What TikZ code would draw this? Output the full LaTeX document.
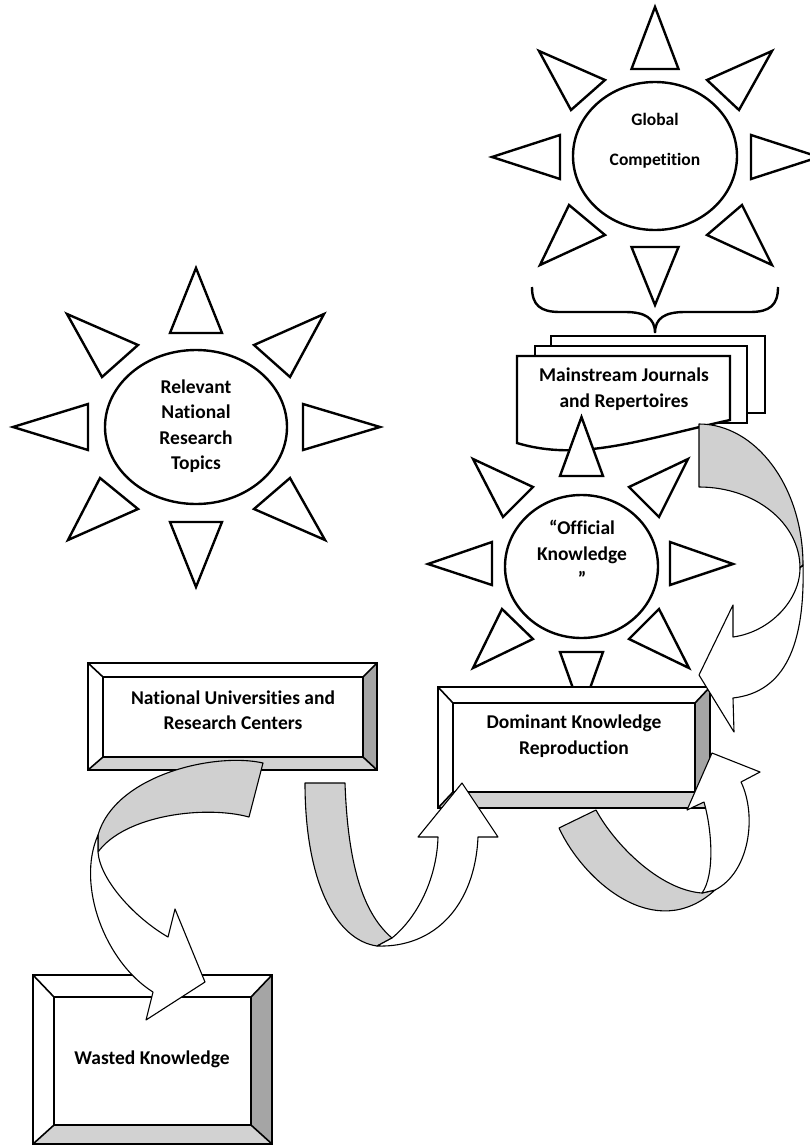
\documentclass[tikz,border=0pt]{standalone}
\usepackage{fontspec}
\setmainfont{Carlito}[Ligatures=NoCommon]
\definecolor{bandgray}{RGB}{208,208,208}
\definecolor{bevelgray}{RGB}{165,165,165}
\definecolor{bevellight}{RGB}{210,210,210}
% outer corners (#1,#2)-(#3,#4), inner face (#5,#6)-(#7,#8)
\newcommand\bevelbox[8]{%
  \fill[white] (#1,#2) rectangle (#3,#4);
  \fill[bevelgray] (#3,#2) -- (#3,#4) -- (#7,#8) -- (#7,#6) -- cycle;
  \fill[bevellight] (#1,#4) -- (#3,#4) -- (#7,#8) -- (#5,#8) -- cycle;
  \draw[bevelline] (#1,#2) -- (#5,#6) (#3,#2) -- (#7,#6) (#3,#4) -- (#7,#8) (#1,#4) -- (#5,#8);
  \draw[boxline] (#1,#2) rectangle (#3,#4);
  \draw[boxline] (#5,#6) rectangle (#7,#8);
}
\begin{document}
\begin{tikzpicture}[x=1pt,y=-1pt,
  ray/.style={draw=black,fill=white,line width=2.4pt,line join=miter},
  disc/.style={draw=black,fill=white,line width=2.4pt},
  boxline/.style={draw=black,line width=2.6pt},
  bevelline/.style={draw=black,line width=1.6pt},
  doc/.style={draw=black,fill=white,line width=2.4pt},
  band/.style={draw=black,line width=1.1pt,line join=round},
  backface/.style={band,fill=bandgray},
  frontface/.style={band,fill=white},
  txt/.style={font=\bfseries\fontsize{19.5}{25.5}\selectfont,align=center,inner sep=0pt},
]
\useasboundingbox (0,0) rectangle (810,1146);

% brace under the global sun
\draw[line width=2.4pt] (532,287) .. controls (532,305) and (540,312) .. (560,312)
  -- (625,312) .. controls (645,312) and (655,318) .. (655,333)
  .. controls (655,318) and (665,312) .. (685,312) -- (750,312)
  .. controls (770,312) and (778,305) .. (778,287);

% global competition sun
\begin{scope}[shift={(655,156)}]
  \draw[disc] (0,0) ellipse [x radius=82, y radius=74];
  \draw[ray] (0,-149) -- (-23.5,-87) -- (23.5,-87) -- cycle;
  \draw[ray] (0,149) -- (-23.5,91) -- (23.5,91) -- cycle;
  \draw[ray] (-163,1) -- (-95,-21) -- (-95,23) -- cycle;
  \draw[ray] (164,1) -- (96,-21) -- (96,23) -- cycle;
  \draw[ray] (-116,-105) -- (-50,-76) -- (-84,-46) -- cycle;
  \draw[ray] (117,-105) -- (52,-76) -- (84,-46) -- cycle;
  \draw[ray] (-86,49) -- (-50,79) -- (-115,109) -- cycle;
  \draw[ray] (87,49) -- (52,79) -- (117,109) -- cycle;
\end{scope}
\node[txt,font=\bfseries\fontsize{17.5}{25.5}\selectfont] (global) at (655,141) {Global\\[14.5pt]Competition};

% relevant national research topics sun
\begin{scope}[shift={(196,427)}]
  \draw[disc] (0,0) ellipse [x radius=91, y radius=77];
  \draw[ray] (0,-159) -- (-26,-94) -- (26,-94) -- cycle;
  \draw[ray] (0,160) -- (-26,95) -- (26,95) -- cycle;
  \draw[ray] (-183,0) -- (-108,-23) -- (-108,23) -- cycle;
  \draw[ray] (184,0) -- (107,-23) -- (107,23) -- cycle;
  \draw[ray] (-129,-113) -- (-58,-82) -- (-94,-50) -- cycle;
  \draw[ray] (128,-113) -- (58,-82) -- (94,-50) -- cycle;
  \draw[ray] (-96,51) -- (-58,82) -- (-128,113) -- cycle;
  \draw[ray] (94,51) -- (58,82) -- (129,113) -- cycle;
\end{scope}
\node[txt] (relevant) at (196,426) {Relevant\\National\\Research\\Topics};

% stacked journal documents
\draw[doc] (551,336) rectangle (765,413);
\draw[doc] (535,346) rectangle (747,423);
\draw[doc] (517,356) -- (730,356) -- (730,420)
  .. controls (640,440) and (580,462) .. (517,443) -- cycle;
\node[txt] (journals) at (624,389) {Mainstream Journals\\and Repertoires};

% official knowledge sun
\begin{scope}[shift={(581.5,564)}]
  \draw[disc] (0,2.5) ellipse [x radius=76.5, y radius=71.5];
  \draw[ray] (0,-147) -- (-21.5,-88) -- (21.5,-88) -- cycle;
  \draw[ray] (0,148) -- (-21.5,88) -- (21.5,88) -- cycle;
  \draw[ray] (-153.5,0) -- (-89.5,-22) -- (-89.5,21) -- cycle;
  \draw[ray] (151.5,0) -- (88.5,-22) -- (88.5,21) -- cycle;
  \draw[ray] (-108.5,-105) -- (-48.5,-77) -- (-78.5,-47) -- cycle;
  \draw[ray] (106.5,-105) -- (47.5,-77) -- (77.5,-47) -- cycle;
  \draw[ray] (-79.5,45) -- (-48.5,75) -- (-108.5,104) -- cycle;
  \draw[ray] (77.5,45) -- (47.5,75) -- (107.5,104) -- cycle;
\end{scope}
\node[txt] (official) at (582,553) {“Official\\Knowledge\\”};

% bevelled boxes
\bevelbox{88}{663}{377}{770}{103}{677}{363}{757}
\node[txt] (universities) at (233,710) {National Universities and\\Research Centers};
\bevelbox{438}{687}{710}{808}{453}{703}{695}{792}
\node[txt] (dominant) at (574,736) {Dominant Knowledge\\Reproduction};
\bevelbox{33}{975}{272}{1144}{54}{997}{251}{1125}
\node[txt] (wasted) at (152,1059) {Wasted Knowledge};

% curved arrow: journals back to dominant reproduction
\draw[backface] (699,424) .. controls (756,424) and (803,487) .. (803,565)
  -- (800,568) .. controls (800,523) and (755,487) .. (699,487) -- cycle;
\draw[frontface] (800,568) .. controls (800,600) and (770,632) .. (733,637)
  -- (733,605) -- (699,675) -- (734,732) -- (733,698)
  .. controls (785,692) and (805,645) .. (803,565) -- cycle;

% curved arrow: universities down to wasted knowledge
\draw[backface] (263,763) .. controls (215,752) and (115,775) .. (98,835)
  -- (98,852) .. controls (125,815) and (205,805) .. (249,817) -- cycle;
\draw[frontface] (98,835) .. controls (76,885) and (105,962) .. (153,992)
  -- (146,1020) -- (205,982) -- (175,909) -- (168,937)
  .. controls (135,918) and (100,880) .. (98,852) -- cycle;

% curved arrow: universities up to dominant reproduction
\draw[backface] (305,783) -- (345,783) .. controls (348,870) and (365,915) .. (392,938)
  -- (377,946) .. controls (335,940) and (305,880) .. (305,783) -- cycle;
\draw[frontface] (377,946) .. controls (435,948) and (475,905) .. (478,837)
  -- (498,837) -- (462,783) -- (418,837) -- (438,837)
  .. controls (437,875) and (420,915) .. (392,938) -- cycle;

% curved arrow: dominant reproduction looping back on itself
\draw[backface] (559,828) -- (596,810) .. controls (615,845) and (660,890) .. (702,893)
  -- (715,890) .. controls (655,945) and (583,880) .. (559,828) -- cycle;
\draw[frontface] (715,890) .. controls (750,872) and (757,815) .. (741,782)
  -- (760,772) -- (712,753) -- (687,810) -- (704,802)
  .. controls (712,830) and (715,875) .. (702,893) -- cycle;
\end{tikzpicture}
\end{document}
